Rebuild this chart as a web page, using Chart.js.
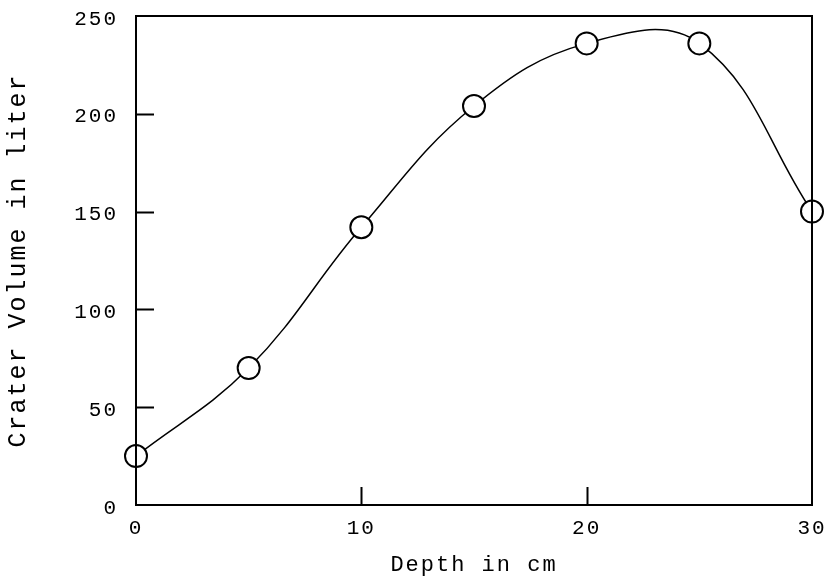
<!DOCTYPE html>
<html>
<head>
<meta charset="utf-8">
<script src="https://cdn.jsdelivr.net/npm/chart.js@4"></script>
<style>
  html, body { margin: 0; padding: 0; background: #fff; }
  #wrap { width: 825px; height: 578px; }
</style>
</head>
<body>
<div id="wrap"><canvas id="craterChart" width="825" height="578"></canvas></div>
<script>
const depths = [0, 5, 10, 15, 20, 25, 30];
const volumes = [25, 70, 142, 204, 236, 236, 150];
const xTicks = [0, 10, 20, 30];
const yTicks = [0, 50, 100, 150, 200, 250];

const FONT = "'Liberation Mono', 'DejaVu Sans Mono', monospace";

// the original typewriter lettering is a little spread out
const spacingPlugin = {
    id: 'spacing',
    beforeDraw(chart) { chart.ctx.letterSpacing = '2px'; },
    afterDraw(chart) { chart.ctx.letterSpacing = '0px'; }
};

// frame around the plot and short inward tick marks
const framePlugin = {
    id: 'frame',
    afterDatasetsDraw(chart) {
        const ctx = chart.ctx;
        const a = chart.chartArea;
        const x = chart.scales.x;
        const y = chart.scales.y;
        ctx.save();
        ctx.strokeStyle = '#000';
        ctx.lineWidth = 2;
        ctx.strokeRect(a.left, a.top, a.right - a.left, a.bottom - a.top);
        ctx.beginPath();
        yTicks.slice(1, -1).forEach(v => {
            const py = Math.round(y.getPixelForValue(v)) + 0.5;
            ctx.moveTo(a.left, py);
            ctx.lineTo(a.left + 18, py);
        });
        xTicks.slice(1, -1).forEach(v => {
            const px = Math.round(x.getPixelForValue(v)) + 0.5;
            ctx.moveTo(px, a.bottom);
            ctx.lineTo(px, a.bottom - 18);
        });
        ctx.stroke();
        ctx.restore();
    }
};

new Chart(document.getElementById('craterChart'), {
    type: 'scatter',
    data: {
        datasets: [{
            data: depths.map((d, i) => ({ x: d, y: volumes[i] })),
            showLine: true,
            tension: 0.4,
            borderColor: '#000',
            borderWidth: 1.5,
            pointRadius: 11,
            pointBorderWidth: 2,
            pointBackgroundColor: '#fff',
            pointBorderColor: '#000',
            clip: false
        }]
    },
    options: {
        responsive: false,
        animation: false,
        layout: { padding: { top: 16, right: 12, left: 0, bottom: 0 } },
        plugins: {
            legend: { display: false },
            tooltip: { enabled: false }
        },
        scales: {
            x: {
                type: 'linear',
                min: 0,
                max: 30,
                afterBuildTicks: s => { s.ticks = xTicks.map(v => ({ value: v })); },
                afterFit: s => { s.height = 73; s.paddingLeft = 0; s.paddingRight = 0; },
                grid: { display: false },
                border: { display: false },
                ticks: { color: '#000', padding: 3, font: { family: FONT, size: 21 } },
                title: {
                    display: true,
                    text: 'Depth in cm',
                    color: '#000',
                    padding: { top: 0, bottom: 0 },
                    font: { family: FONT, size: 22 }
                }
            },
            y: {
                min: 0,
                max: 250,
                afterBuildTicks: s => { s.ticks = yTicks.map(v => ({ value: v })); },
                afterFit: s => { s.width = 136; s.paddingTop = 0; s.paddingBottom = 0; },
                grid: { display: false },
                border: { display: false },
                ticks: { color: '#000', padding: 10, labelOffset: 3, font: { family: FONT, size: 21 } },
                title: {
                    display: true,
                    text: 'Crater Volume in liter',
                    color: '#000',
                    padding: { top: 3, bottom: 4 },
                    font: { family: FONT, size: 25 }
                }
            }
        }
    },
    plugins: [spacingPlugin, framePlugin]
});
</script>
</body>
</html>
